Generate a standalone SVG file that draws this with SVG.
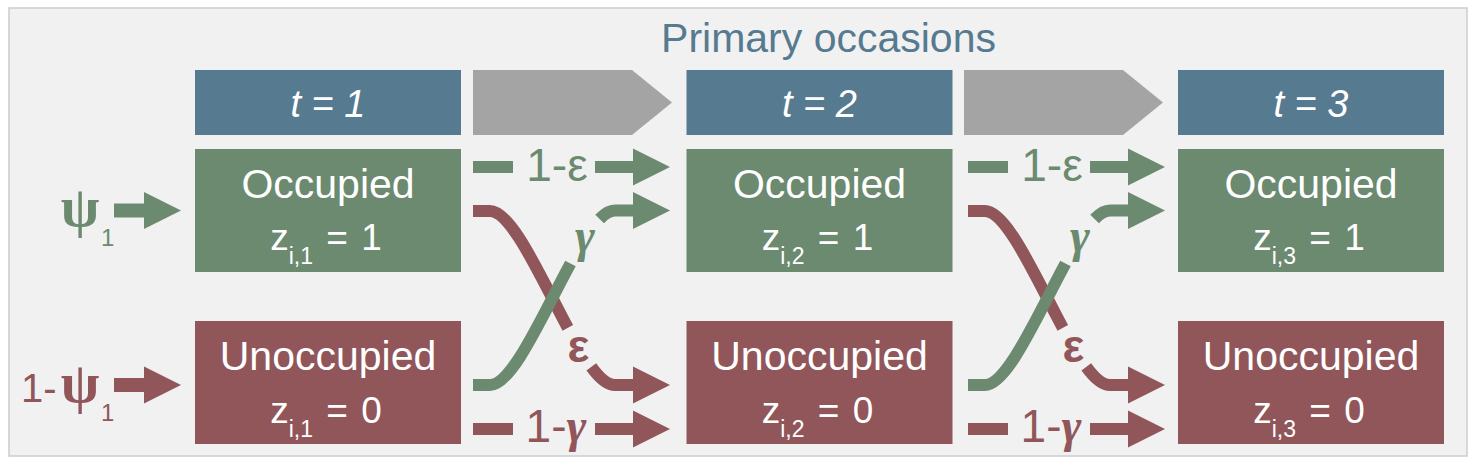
<svg xmlns="http://www.w3.org/2000/svg" xmlns:xlink="http://www.w3.org/1999/xlink" width="1476" height="463" viewBox="0 0 1476 463">
<style>
.frame{fill:#f1f1f1;stroke:#cccccc;stroke-width:1.5}
.hdr{fill:#567a8f}
.occ{fill:#6b8a6f}
.un{fill:#91565a}
.per{fill:#a4a4a4}
.wt{fill:#ffffff;font-family:"Liberation Sans",Arial,sans-serif;text-anchor:middle}
.big{font-size:41px}
.z{font-size:37px;word-spacing:3px}
.sub{font-size:23px}
.tt{font-size:38px;font-style:italic}
.title{fill:#567a8f;font-family:"Liberation Sans",Arial,sans-serif;font-size:41px;text-anchor:middle}
.g{stroke:#6b8a6f;fill:none;stroke-width:12;stroke-linecap:butt}
.r{stroke:#91565a;fill:none;stroke-width:12;stroke-linecap:butt}
.gf{fill:#6b8a6f}
.rf{fill:#91565a}
.lab{font-family:"Liberation Sans",Arial,sans-serif;font-size:46px;text-anchor:middle}
.gr{font-family:"Liberation Serif","Times New Roman",serif;font-weight:bold}
.gi{font-family:"Liberation Serif","Times New Roman",serif;font-style:italic;font-weight:bold}
.s{font-family:"Liberation Sans",Arial,sans-serif}
</style>
<defs>
<path id="ah" d="M0,-18.5 L37,0 L0,18.5 Z"/>
</defs>
<rect class="frame" x="9" y="8" width="1458" height="448"/>
<text class="title" x="828.5" y="52">Primary occasions</text>

<g id="period-arrows">
<polygon class="per" points="473,70 632,70 672,102.5 632,135 473,135"/>
<polygon class="per" points="964,70 1123,70 1163,102.5 1123,135 964,135"/>
</g>

<g id="t1"><rect class="hdr" x="195" y="70" width="266" height="65"/><text class="wt tt" x="328" y="117">t = 1</text></g>
<g id="t2"><rect class="hdr" x="686.5" y="70" width="266" height="65"/><text class="wt tt" x="819.5" y="117">t = 2</text></g>
<g id="t3"><rect class="hdr" x="1178" y="70" width="266" height="65"/><text class="wt tt" x="1311" y="117">t = 3</text></g>

<g id="occ1"><rect class="occ" x="195" y="149" width="266" height="123"/>
<text class="wt big" x="328" y="198">Occupied</text>
<text class="wt z" x="326" y="250">z<tspan class="sub" dy="14">i,1</tspan><tspan dy="-14"> = 1</tspan></text></g>
<g id="occ2"><rect class="occ" x="686.5" y="149" width="266" height="123"/>
<text class="wt big" x="819.5" y="198">Occupied</text>
<text class="wt z" x="817.5" y="250">z<tspan class="sub" dy="14">i,2</tspan><tspan dy="-14"> = 1</tspan></text></g>
<g id="occ3"><rect class="occ" x="1178" y="149" width="266" height="123"/>
<text class="wt big" x="1311" y="198">Occupied</text>
<text class="wt z" x="1309" y="250">z<tspan class="sub" dy="14">i,3</tspan><tspan dy="-14"> = 1</tspan></text></g>

<g id="un1"><rect class="un" x="195" y="321" width="266" height="123"/>
<text class="wt big" x="328" y="370">Unoccupied</text>
<text class="wt z" x="326" y="423">z<tspan class="sub" dy="14">i,1</tspan><tspan dy="-14"> = 0</tspan></text></g>
<g id="un2"><rect class="un" x="686.5" y="321" width="266" height="123"/>
<text class="wt big" x="819.5" y="370">Unoccupied</text>
<text class="wt z" x="817.5" y="423">z<tspan class="sub" dy="14">i,2</tspan><tspan dy="-14"> = 0</tspan></text></g>
<g id="un3"><rect class="un" x="1178" y="321" width="266" height="123"/>
<text class="wt big" x="1311" y="370">Unoccupied</text>
<text class="wt z" x="1309" y="423">z<tspan class="sub" dy="14">i,3</tspan><tspan dy="-14"> = 0</tspan></text></g>

<g id="initial">
<text class="gr gf" x="80" y="226" font-size="56" text-anchor="middle">ψ</text>
<text class="s gf" x="101" y="246" font-size="24">1</text>
<path d="M114,210.5 H146" stroke="#6b8a6f" stroke-width="14"/>
<use xlink:href="#ah" href="#ah" x="144" y="210.5" class="gf"/>
<text class="s rf" x="21" y="402" font-size="40">1-</text>
<text class="gr rf" x="80" y="402" font-size="56" text-anchor="middle">ψ</text>
<text class="s rf" x="101" y="421" font-size="24">1</text>
<path d="M114,385 H146" stroke="#91565a" stroke-width="14"/>
<use xlink:href="#ah" href="#ah" x="144" y="385" class="rf"/>
</g>

<g id="connectors">
<g id="trans-1-2">
<path class="g" d="M473,167 H513 M595,167 H635"/>
<text class="lab gf" x="557" y="181">1-ε</text>
<use xlink:href="#ah" href="#ah" x="633" y="167" class="gf"/>
<path class="r" d="M473,211 H490 C511.5,211 540.5,277 567.8,327.9 M591.3,366.9 C599.8,378.6 607.8,385 615,385 H635"/>
<use xlink:href="#ah" href="#ah" x="633" y="385" class="rf"/>
<path class="g" d="M473,385 H490 C512.2,385 542.4,315.2 570.5,263.5 M599.6,219 C605,213.3 610.2,210.5 615,210.5 H635"/>
<use xlink:href="#ah" href="#ah" x="633" y="210.5" class="gf"/>
<text class="lab rf" x="578.5" y="362" font-weight="bold">ε</text>
<text class="gi gf" x="585" y="252" font-size="48" text-anchor="middle">γ</text>
<path class="r" d="M473,429 H513 M595,429 H635"/>
<text class="lab rf" x="556" y="442">1-<tspan class="gi" font-size="48">γ</tspan></text>
<use xlink:href="#ah" href="#ah" x="633" y="429" class="rf"/>
</g>
<g id="trans-2-3" transform="translate(495,0)">
<path class="g" d="M473,167 H513 M595,167 H635"/>
<text class="lab gf" x="557" y="181">1-ε</text>
<use xlink:href="#ah" href="#ah" x="633" y="167" class="gf"/>
<path class="r" d="M473,211 H490 C511.5,211 540.5,277 567.8,327.9 M591.3,366.9 C599.8,378.6 607.8,385 615,385 H635"/>
<use xlink:href="#ah" href="#ah" x="633" y="385" class="rf"/>
<path class="g" d="M473,385 H490 C512.2,385 542.4,315.2 570.5,263.5 M599.6,219 C605,213.3 610.2,210.5 615,210.5 H635"/>
<use xlink:href="#ah" href="#ah" x="633" y="210.5" class="gf"/>
<text class="lab rf" x="578.5" y="362" font-weight="bold">ε</text>
<text class="gi gf" x="585" y="252" font-size="48" text-anchor="middle">γ</text>
<path class="r" d="M473,429 H513 M595,429 H635"/>
<text class="lab rf" x="556" y="442">1-<tspan class="gi" font-size="48">γ</tspan></text>
<use xlink:href="#ah" href="#ah" x="633" y="429" class="rf"/>
</g>
</g>
</svg>
